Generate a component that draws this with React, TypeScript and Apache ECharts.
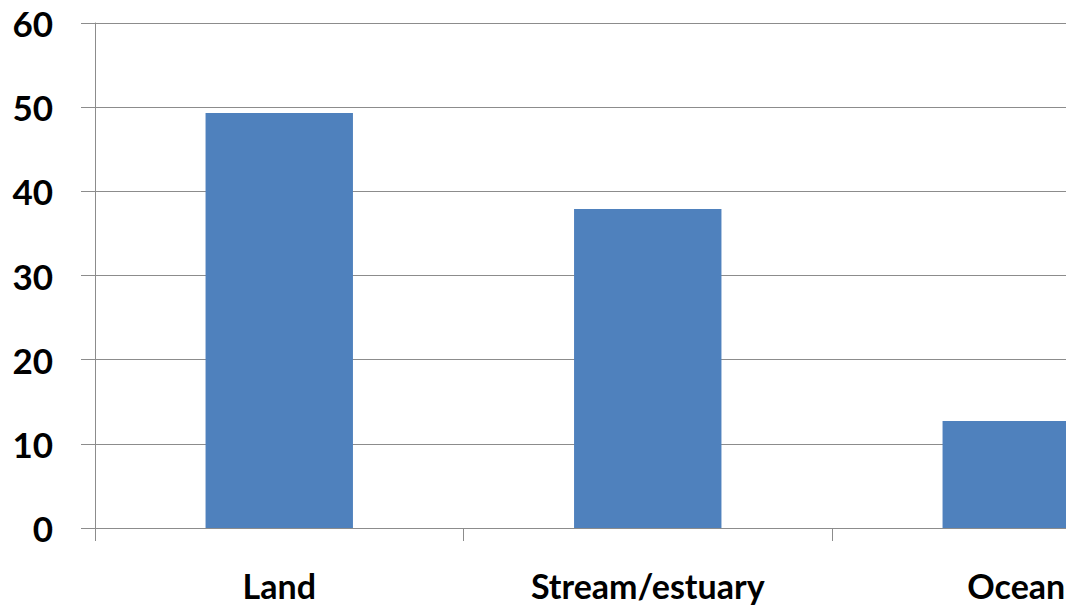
import React, { useEffect, useRef } from "react";
import * as echarts from "echarts";

const categories = ["Land", "Stream/estuary", "Ocean"];
const values = [49.3, 37.9, 12.7];
const yTicks = { min: 0, max: 60, interval: 10 };

export default function App() {
  const ref = useRef<HTMLDivElement>(null);
  useEffect(() => {
    const chart = echarts.init(ref.current!, null, { renderer: "svg" });
    chart.setOption({
      animation: false,
      backgroundColor: "#ffffff",
      grid: { left: 95, top: 23, bottom: 78, right: 9.5, containLabel: false },
      xAxis: {
        type: "category",
        data: categories,
        axisLine: { show: true, lineStyle: { color: "#8c8c8c", width: 1 } },
        axisTick: { show: true, length: 13, lineStyle: { color: "#8c8c8c" } },
        axisLabel: {
          margin: 40,
          fontFamily: "Lato",
          fontWeight: "bold",
          fontSize: 34,
          color: "#000",
          interval: 0,
        },
      },
      yAxis: {
        type: "value",
        min: yTicks.min,
        max: yTicks.max,
        interval: yTicks.interval,
        axisLine: { show: true, lineStyle: { color: "#8c8c8c", width: 1 } },
        axisTick: { show: true, length: 14, lineStyle: { color: "#8c8c8c" } },
        splitLine: { show: true, lineStyle: { color: "#8c8c8c", width: 1 } },
        axisLabel: {
          margin: 42,
          fontFamily: "Lato",
          fontWeight: "bold",
          fontSize: 35,
          color: "#000",
        },
      },
      series: [
        {
          type: "bar",
          data: values,
          barCategoryGap: "60%",
          itemStyle: { color: "#4f81bd" },
        },
      ],
    });
    return () => chart.dispose();
  }, []);
  return (
    <div
      style={{
        position: "fixed",
        left: 0,
        top: 0,
        width: 1066,
        height: 606,
        overflow: "hidden",
        background: "#fff",
      }}
    >
      <div ref={ref} style={{ width: 1210, height: 606 }} />
    </div>
  );
}
